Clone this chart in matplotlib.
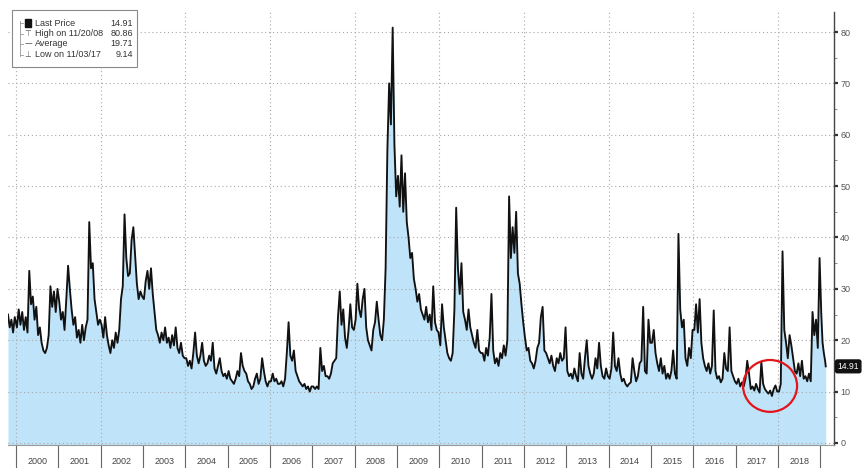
import matplotlib
matplotlib.use("Agg")
import matplotlib.pyplot as plt
from matplotlib.patches import Ellipse, Rectangle
from matplotlib.lines import Line2D
import matplotlib.ticker as mticker

plt.rcParams['font.family'] = ['Liberation Sans', 'DejaVu Sans']

# ---------------- data (VIX, decimal-year dates) ----------------
dates_1999 = [1999.81, 1999.85, 1999.89, 1999.93, 1999.97]
vix_1999 = [25.0, 22.5, 24.0, 21.5, 24.5]
vix_2000 = [22.5, 26.0, 23.0, 25.5, 22.0, 24.5, 21.5, 33.5, 27.0, 28.5, 24.0, 26.5,
            21.0, 22.5, 19.5, 18.0, 17.5, 18.5, 21.0, 30.5, 26.5, 29.5, 25.5, 30.0]
vix_2001 = [27.5, 24.0, 25.5, 22.0, 28.0, 34.5, 30.0, 26.0, 23.0, 24.5, 20.5, 22.0,
            19.5, 23.0, 20.0, 22.5, 24.0, 43.0, 34.0, 35.0, 28.0, 25.5, 23.0, 24.0]
vix_2002 = [23.0, 20.5, 24.5, 21.0, 19.0, 17.5, 20.0, 18.5, 21.5, 19.5, 22.0, 28.0,
            30.5, 44.5, 36.0, 32.5, 33.0, 39.5, 42.0, 36.5, 31.0, 28.0, 29.5, 28.5]
vix_2003 = [28.0, 31.5, 33.5, 30.0, 34.0, 29.0, 25.5, 22.0, 21.0, 19.5, 21.5, 20.0,
            22.5, 19.5, 20.5, 18.5, 21.0, 19.0, 22.5, 18.5, 17.5, 19.5, 17.0, 16.5]
vix_2004 = [16.5, 15.0, 16.0, 14.5, 17.5, 21.5, 17.0, 15.5, 17.0, 19.5, 16.0, 15.0,
            15.5, 17.0, 16.0, 19.5, 14.5, 13.5, 15.0, 16.5, 14.0, 13.0, 13.5, 12.5]
vix_2005 = [14.0, 12.5, 12.0, 11.5, 12.5, 14.0, 13.0, 17.5, 15.0, 14.0, 13.5, 12.0,
            11.5, 10.5, 11.0, 12.5, 13.5, 11.5, 12.5, 16.5, 14.0, 12.0, 11.0, 12.0]
vix_2006 = [12.0, 13.5, 12.0, 12.5, 11.5, 11.5, 12.0, 11.0, 12.5, 17.5, 23.5, 17.0,
            16.0, 18.0, 14.0, 13.0, 12.0, 11.5, 11.0, 11.5, 10.5, 11.0, 10.0, 11.0]
vix_2007 = [11.0, 10.5, 11.0, 10.5, 18.5, 14.0, 15.0, 13.0, 13.0, 12.5, 13.5, 15.5,
            16.0, 16.5, 24.5, 29.5, 23.0, 26.0, 20.5, 18.5, 22.0, 27.0, 22.5, 22.0]
vix_2008 = [24.0, 31.0, 26.0, 24.5, 28.0, 30.0, 22.5, 20.0, 19.0, 18.0, 22.0, 23.5,
            27.5, 24.0, 21.0, 20.0, 24.0, 34.0, 57.0, 70.0, 62.0, 80.86, 58.0, 48.0]
vix_2009 = [52.0, 46.0, 56.0, 45.0, 52.5, 43.0, 40.0, 36.0, 37.0, 32.0, 30.0, 27.5,
            29.0, 26.0, 25.0, 24.0, 26.5, 23.5, 25.0, 22.0, 30.5, 23.5, 22.0, 21.5]
vix_2010 = [19.0, 27.0, 22.5, 20.0, 17.5, 16.5, 16.0, 17.5, 26.0, 45.8, 34.0, 29.0,
            35.0, 25.5, 24.0, 22.0, 26.0, 22.5, 21.0, 19.5, 18.5, 22.0, 18.0, 17.5]
vix_2011 = [17.5, 16.0, 18.5, 17.0, 20.5, 29.0, 18.0, 15.5, 16.5, 15.0, 17.5, 16.5,
            19.0, 17.0, 20.0, 48.0, 36.0, 42.0, 37.0, 45.0, 33.0, 31.0, 27.0, 23.5]
vix_2012 = [20.5, 18.0, 18.5, 16.0, 15.5, 14.5, 16.0, 18.5, 19.5, 24.5, 26.5, 18.0,
            17.5, 16.5, 15.5, 17.0, 15.0, 14.0, 16.5, 15.5, 17.5, 16.0, 16.5, 22.5]
vix_2013 = [14.0, 13.0, 13.5, 12.5, 14.5, 13.0, 12.0, 17.5, 13.5, 12.5, 16.5, 20.0,
            15.0, 13.5, 12.5, 13.5, 16.5, 14.5, 19.5, 15.0, 13.0, 12.5, 14.5, 13.0]
vix_2014 = [12.5, 14.5, 21.5, 15.0, 14.0, 16.5, 13.5, 12.0, 12.5, 11.5, 11.0, 11.5,
            11.8, 16.5, 14.0, 12.0, 13.0, 15.5, 16.0, 26.5, 14.0, 13.5, 24.0, 19.5]
vix_2015 = [19.5, 22.0, 17.5, 15.5, 14.0, 16.5, 13.5, 15.0, 12.5, 13.5, 12.5, 14.0,
            18.0, 13.5, 12.5, 40.7, 26.0, 22.5, 24.0, 16.5, 15.0, 18.5, 16.5, 22.0]
vix_2016 = [22.0, 27.0, 21.5, 28.0, 19.5, 16.5, 15.0, 14.0, 15.5, 13.5, 15.0, 25.8,
            14.0, 12.5, 13.0, 11.8, 12.5, 17.5, 14.5, 14.0, 22.5, 14.0, 13.0, 12.0]
vix_2017 = [11.5, 12.5, 11.0, 11.8, 11.0, 12.5, 16.0, 13.5, 10.5, 11.0, 10.2, 11.5,
            10.5, 9.8, 15.8, 11.5, 10.5, 10.0, 9.6, 10.2, 9.14, 10.5, 11.2, 10.0]
vix_2018 = [10.0, 11.5, 37.3, 22.0, 19.5, 16.5, 21.0, 19.0, 16.5, 14.0, 13.5, 15.5,
            13.0, 16.0, 12.5, 13.0, 12.0, 13.5, 12.0, 25.5, 21.0, 24.0, 18.5, 36.0]
dates_2019 = [2019.02, 2019.05, 2019.08, 2019.11, 2019.125]
vix_2019 = [25.0, 19.5, 17.5, 16.0, 14.91]

full_years = list(range(2000, 2019))
full_series = [vix_2000, vix_2001, vix_2002, vix_2003, vix_2004, vix_2005, vix_2006,
               vix_2007, vix_2008, vix_2009, vix_2010, vix_2011, vix_2012, vix_2013,
               vix_2014, vix_2015, vix_2016, vix_2017, vix_2018]

year_labels = [str(y) for y in range(2000, 2019)]
y_ticks = [0, 10, 20, 30, 40, 50, 60, 70, 80]

legend_rows = [("Last Price", "14.91"), ("High on 11/20/08", "80.86"),
               ("Average", "19.71"), ("Low on 11/03/17", "9.14")]
last_price = 14.91

# ---------------- assemble ----------------
xs = list(dates_1999)
ys = list(vix_1999)
for yr, vals in zip(full_years, full_series):
    n = len(vals)
    xs += [yr + (i + 0.5) / n for i in range(n)]
    ys += vals
xs += dates_2019
ys += vix_2019

W, H = 863, 468
fig = plt.figure(figsize=(W / 100, H / 100), dpi=100)
ax = fig.add_axes([8 / W, 23 / H, 826 / W, 433 / H])

ax.fill_between(xs, ys, -5, color='#bfe3f8', lw=0, zorder=1)
ax.plot(xs, ys, color='#111111', lw=1.35, zorder=3)

ax.set_xlim(1999.81, 2019.32)
ax.set_ylim(-0.4, 83.9)

# grid
for v in y_ticks:
    ax.axhline(v, color='#a8a8a8', lw=0.8, ls=(0, (1, 2.5)), zorder=2)
for yr in range(2000, 2019, 2):
    ax.axvline(yr, color='#a8a8a8', lw=0.8, ls=(0, (1, 2.5)), zorder=2)

# spines
for s in ['top', 'left']:
    ax.spines[s].set_visible(False)
ax.spines['right'].set_color('#444444')
ax.spines['right'].set_linewidth(1.0)
ax.spines['bottom'].set_color('#999999')
ax.spines['bottom'].set_linewidth(0.8)

# y axis on right
ax.yaxis.tick_right()
ax.set_yticks(y_ticks)
ax.set_yticklabels([str(v) for v in y_ticks])
ax.yaxis.set_minor_locator(mticker.MultipleLocator(5))
ax.tick_params(axis='y', which='major', direction='out', length=3, width=1.6,
               color='#333333', labelsize=6.5, labelcolor='#555555', pad=1.5)
ax.tick_params(axis='y', which='minor', direction='out', length=2, width=0.6,
               color='#777777')

# x axis: year boundaries as long ticks, labels at mid-year
ax.set_xticks(list(range(2000, 2020)))
ax.set_xticklabels([''] * 20)
ax.set_xticks([y + 0.5 for y in range(2000, 2019)], minor=True)
ax.set_xticklabels(year_labels, minor=True)
ax.tick_params(axis='x', which='major', direction='out', length=17, width=0.8,
               color='#666666')
ax.tick_params(axis='x', which='minor', length=0, labelsize=6.5,
               labelcolor='#444444', pad=9)

# last price tag
ax.annotate(f"{last_price:.2f}", xy=(1.0, last_price), xycoords=('axes fraction', 'data'),
            xytext=(2.5, 0), textcoords='offset points', va='center', ha='left',
            fontsize=6.2, color='white',
            bbox=dict(boxstyle='round,pad=0.22', fc='#111111', ec='#111111'),
            annotation_clip=False, zorder=6)

# red circle
ax.add_patch(Ellipse((2017.81, 11.1), width=1.276, height=10.1, fill=False,
                     ec='#e3151b', lw=1.6, zorder=5))

# legend box (figure pixel coordinates)
def fx(px):
    return px / W

def fy(py):
    return 1 - py / H

fig.patches.append(Rectangle((fx(12), fy(67)), fx(137) - fx(12), fy(10) - fy(67),
                             transform=fig.transFigure, fc='white', ec='#8a8a8a',
                             lw=0.8, zorder=10))
row_y = [23, 33.5, 44, 54.5]
fig.lines.append(Line2D([fx(20), fx(20)], [fy(21), fy(56)], transform=fig.transFigure,
                        color='#999999', lw=0.6, zorder=11))
for ry in row_y:
    fig.lines.append(Line2D([fx(20), fx(23)], [fy(ry), fy(ry)], transform=fig.transFigure,
                            color='#999999', lw=0.6, zorder=11))
fig.patches.append(Rectangle((fx(25), fy(26.5)), fx(31) - fx(25), fy(19.5) - fy(26.5),
                             transform=fig.transFigure, fc='#111111', ec='#111111',
                             zorder=11))
icons = [None, "\u22a4", "\u2014", "\u22a5"]
for (label, val), ry, ic in zip(legend_rows, row_y, icons):
    if ic is not None:
        fig.text(fx(28), fy(ry), ic, fontsize=5.5, color='#555555', ha='center',
                 va='center', family='DejaVu Sans', zorder=12)
    fig.text(fx(35), fy(ry), label, fontsize=6.5, color='#333333', ha='left',
             va='center', zorder=12)
    fig.text(fx(133), fy(ry), val, fontsize=6.5, color='#333333', ha='right',
             va='center', zorder=12)

fig.savefig('out.png', dpi=100)
